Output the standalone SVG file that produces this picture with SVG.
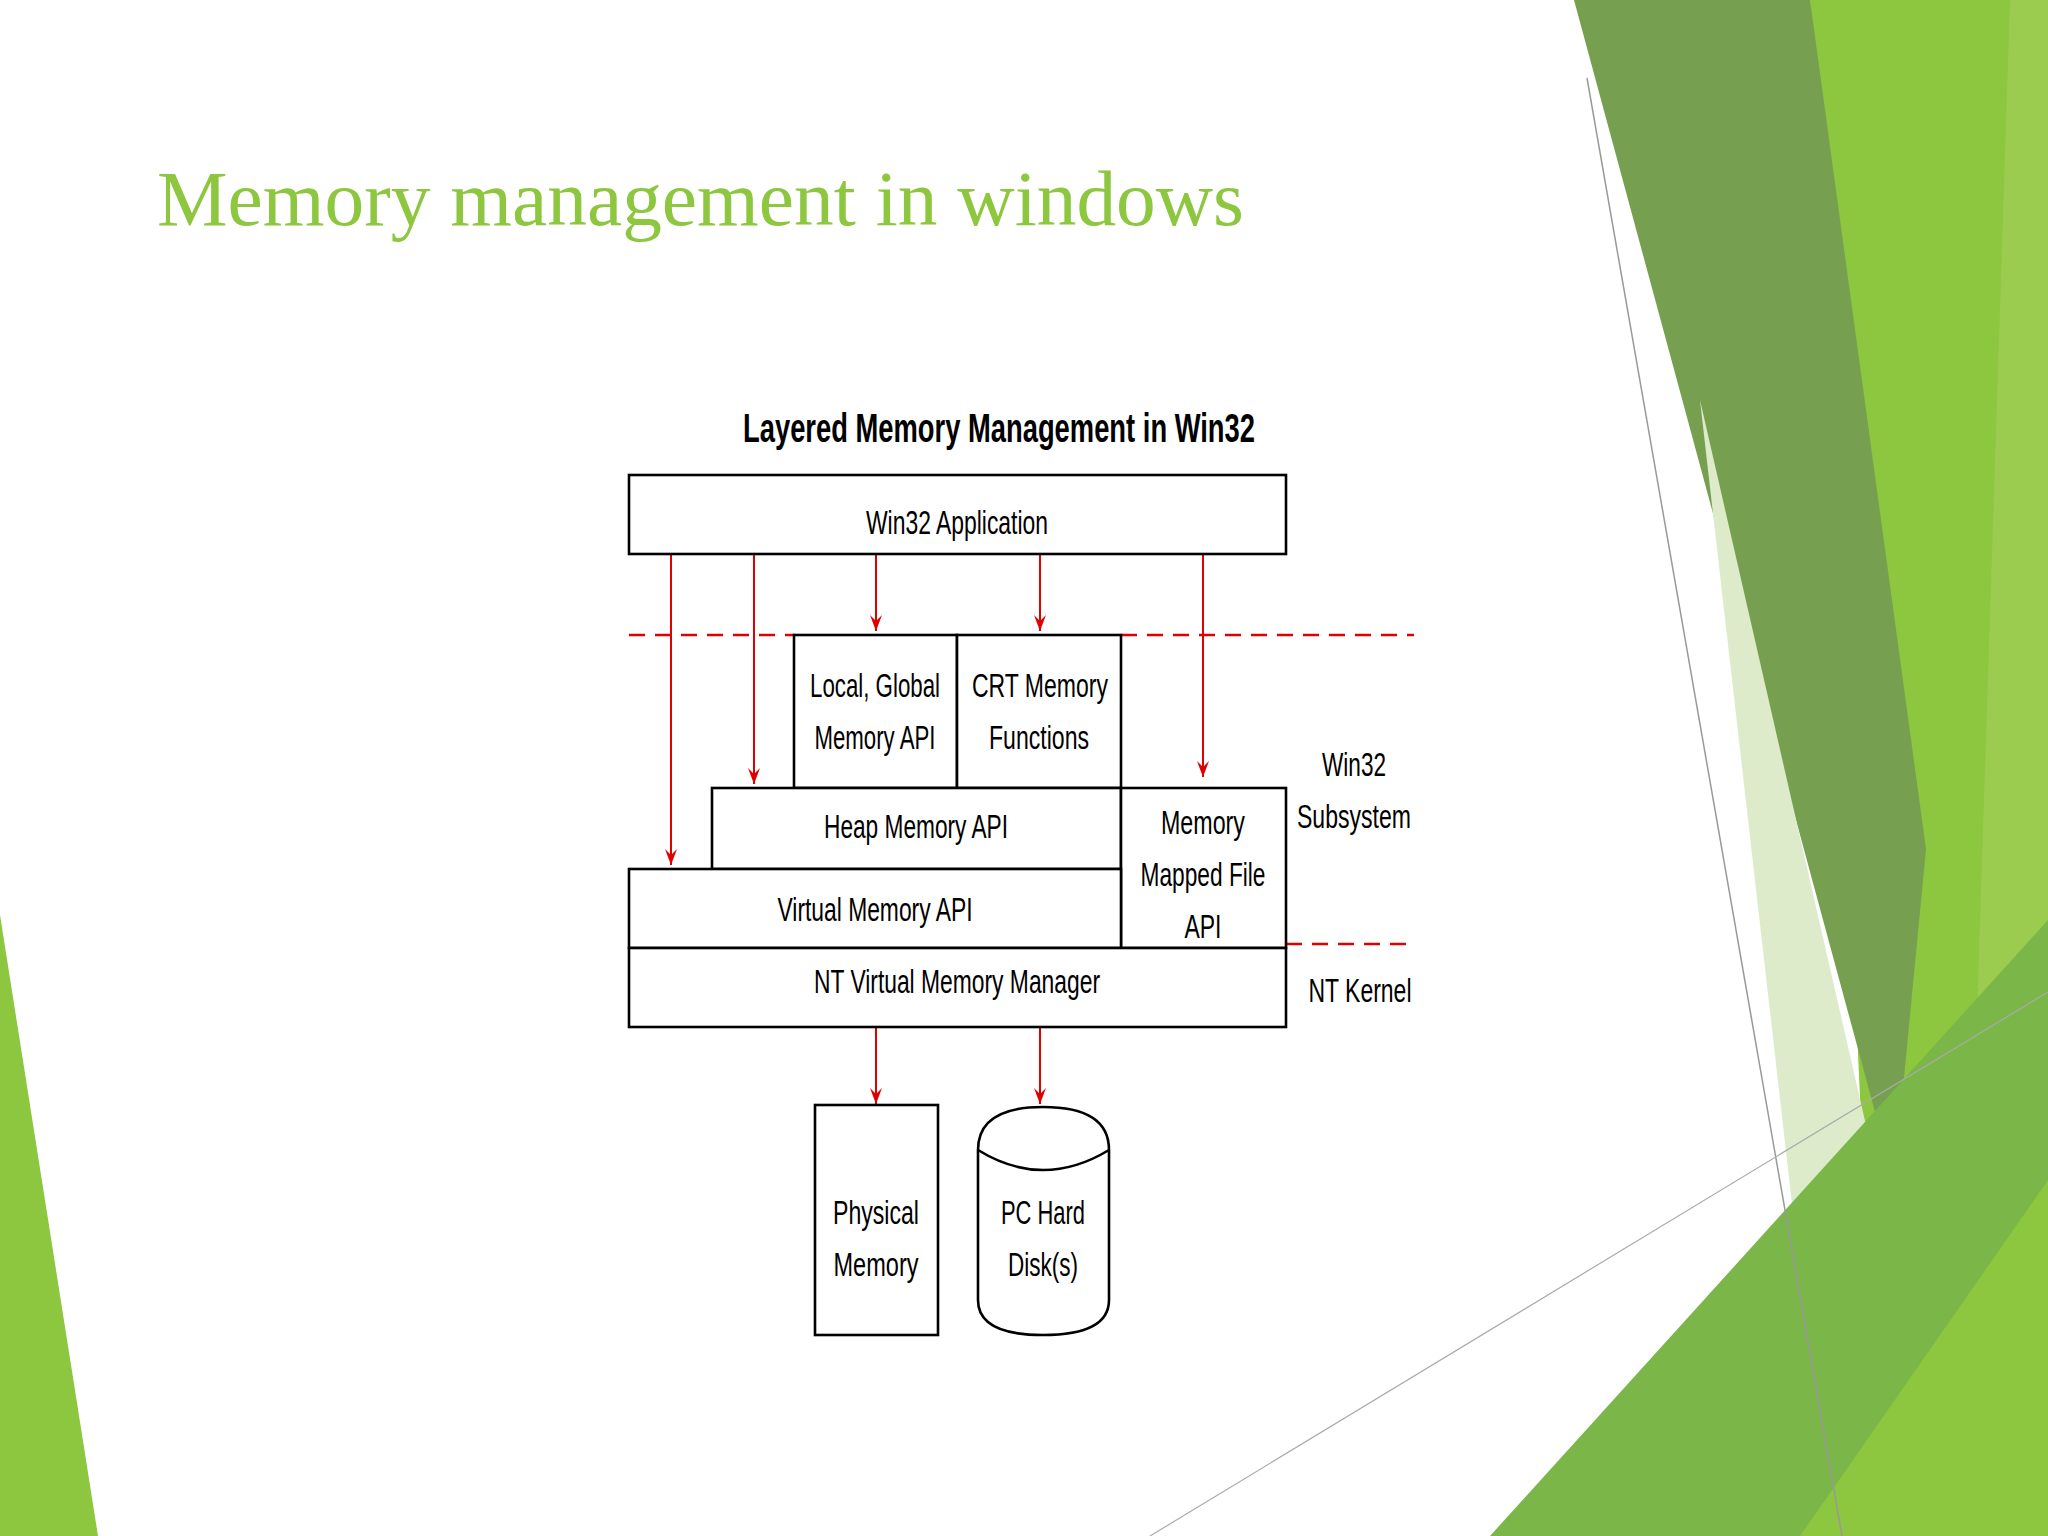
<svg xmlns="http://www.w3.org/2000/svg" width="2048" height="1536" viewBox="0 0 2048 1536">
<defs>
<style>
.b{fill:#fff;stroke:#000;stroke-width:2.6}
.t{font-family:"Liberation Sans",sans-serif;font-size:34px;fill:#000;text-anchor:middle}
.d{stroke:#e00000;stroke-width:2.6;stroke-dasharray:16 10;fill:none}
</style>
<marker id="ah2" viewBox="0 0 12 16" refX="6" refY="16" markerWidth="12" markerHeight="16" orient="0" markerUnits="userSpaceOnUse">
<path d="M0,0 L6,16 L12,0 L6,6 Z" fill="#e00000"/>
</marker>
</defs>
<rect width="2048" height="1536" fill="#fff"/>
<g id="background">
<polygon points="1810,0 2048,0 2048,1536 1880,1536" fill="#8DC63F"/>
<polygon points="2010,0 2048,0 2048,1536 1960,1536" fill="#9BCB4F"/>
<polygon points="1574,0 1810,0 1926,849 1894,1182" fill="#76A04F"/>
<polygon points="1700,400 1960,1536 1830,1536" fill="#DDEBCB"/>
<polygon points="1490,1536 2048,920 2048,1536" fill="#7AB648"/>
<polygon points="1800,1536 2048,1180 2048,1536" fill="#8DC63F"/>
<polygon points="0,915 98,1536 0,1536" fill="#8DC63F"/>
<line x1="1587" y1="78" x2="1842" y2="1536" stroke="#999" stroke-width="1.5"/>
<line x1="1150" y1="1536" x2="2048" y2="992" stroke="#aaa" stroke-width="1.2"/>
</g>
<text x="157" y="225" font-family="Liberation Serif,serif" font-size="78" fill="#8DC63F" textLength="1087" lengthAdjust="spacingAndGlyphs">Memory management in windows</text>
<text x="999" y="442" class="t" style="font-weight:bold;font-size:40px" textLength="512" lengthAdjust="spacingAndGlyphs">Layered Memory Management in Win32</text>
<g id="connectors">
<line x1="629" y1="635" x2="794" y2="635" class="d"/>
<line x1="1121" y1="635" x2="1414" y2="635" class="d"/>
<line x1="1286" y1="944" x2="1414" y2="944" class="d"/>
<g style="stroke:#e00000;stroke-width:2;marker-end:url(#ah2)">
<line x1="671" y1="554" x2="671" y2="865"/>
<line x1="754" y1="554" x2="754" y2="784"/>
<line x1="876" y1="554" x2="876" y2="631"/>
<line x1="1040" y1="554" x2="1040" y2="631"/>
<line x1="1203" y1="554" x2="1203" y2="777"/>
<line x1="876" y1="1027" x2="876" y2="1104"/>
<line x1="1040" y1="1027" x2="1040" y2="1104"/>
</g>
</g>
<g id="win32app"><rect class="b" x="629" y="475" width="657" height="79"/><text class="t" x="957" y="534" textLength="182" lengthAdjust="spacingAndGlyphs">Win32 Application</text></g>
<g id="localglobal"><rect class="b" x="794" y="635" width="163" height="153"/><text class="t" x="875" y="697" textLength="130" lengthAdjust="spacingAndGlyphs">Local, Global</text><text class="t" x="875" y="749" textLength="121" lengthAdjust="spacingAndGlyphs">Memory API</text></g>
<g id="crt"><rect class="b" x="957" y="635" width="164" height="153"/><text class="t" x="1040" y="697" textLength="136" lengthAdjust="spacingAndGlyphs">CRT Memory</text><text class="t" x="1039" y="749" textLength="100" lengthAdjust="spacingAndGlyphs">Functions</text></g>
<g id="heap"><rect class="b" x="712" y="788" width="409" height="81"/><text class="t" x="916" y="838" textLength="184" lengthAdjust="spacingAndGlyphs">Heap Memory API</text></g>
<g id="mmf"><rect class="b" x="1121" y="788" width="165" height="160"/><text class="t" x="1203" y="834" textLength="84" lengthAdjust="spacingAndGlyphs">Memory</text><text class="t" x="1203" y="886" textLength="125" lengthAdjust="spacingAndGlyphs">Mapped File</text><text class="t" x="1203" y="938" textLength="37" lengthAdjust="spacingAndGlyphs">API</text></g>
<g id="vm"><rect class="b" x="629" y="869" width="492" height="79"/><text class="t" x="875" y="921" textLength="195" lengthAdjust="spacingAndGlyphs">Virtual Memory API</text></g>
<g id="ntvmm"><rect class="b" x="629" y="948" width="657" height="79"/><text class="t" x="957" y="993" textLength="286" lengthAdjust="spacingAndGlyphs">NT Virtual Memory Manager</text></g>
<g id="phys"><rect class="b" x="815" y="1105" width="123" height="230"/><text class="t" x="876" y="1224" textLength="86" lengthAdjust="spacingAndGlyphs">Physical</text><text class="t" x="876" y="1276" textLength="85" lengthAdjust="spacingAndGlyphs">Memory</text></g>
<g id="disk"><path class="b" d="M978,1150 Q978,1107 1043,1107 Q1109,1107 1109,1150 L1109,1300 Q1109,1335 1043,1335 Q978,1335 978,1300 Z"/><path d="M978,1150 Q1043,1190 1109,1150" fill="none" stroke="#000" stroke-width="2.6"/><text class="t" x="1043" y="1224" textLength="84" lengthAdjust="spacingAndGlyphs">PC Hard</text><text class="t" x="1043" y="1276" textLength="70" lengthAdjust="spacingAndGlyphs">Disk(s)</text></g>
<g id="labels"><text class="t" x="1354" y="776" textLength="64" lengthAdjust="spacingAndGlyphs">Win32</text><text class="t" x="1354" y="828" textLength="114" lengthAdjust="spacingAndGlyphs">Subsystem</text><text class="t" x="1360" y="1002" textLength="103" lengthAdjust="spacingAndGlyphs">NT Kernel</text></g>
</svg>
